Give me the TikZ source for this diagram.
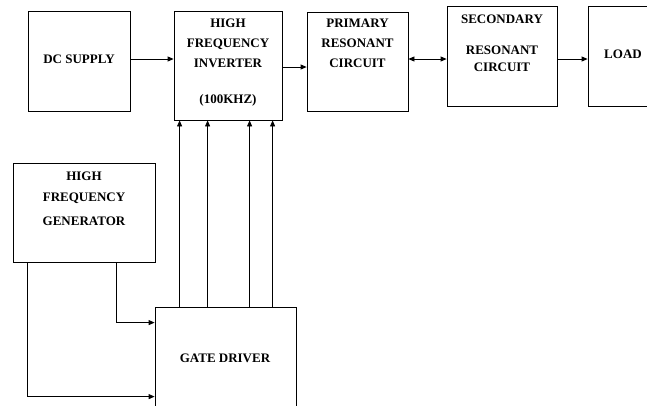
\documentclass[tikz,border=0pt]{standalone}
\usepackage{fontspec}
\setmainfont{Liberation Serif}
\usetikzlibrary{arrows.meta,positioning,calc}

\begin{document}
\begin{tikzpicture}[x=1pt, y=-1pt, line width=0.8pt,
    block/.style={draw, rectangle, inner sep=0pt},
    lbl/.style={align=center, font=\fontsize{13}{20}\selectfont\bfseries},
    arr/.style={-{Triangle[length=6pt,width=5pt]}},
    darr/.style={{Triangle[length=6pt,width=5pt]}-{Triangle[length=6pt,width=5pt]}}]
  \clip (0,0) rectangle (647,405);

  % --- top row of blocks ---
  \node[block, minimum width=102pt, minimum height=100pt] (dcsupply) at (79,61) {};
  \node[block, minimum width=108pt, minimum height=109pt] (inverter) at (228,65.5) {};
  \node[block, minimum width=101pt, minimum height=99pt] (primary) at (357.5,61.5) {};
  \node[block, minimum width=110pt, minimum height=100pt] (secondary) at (502,56) {};
  \node[block, minimum width=80pt, minimum height=100pt] (load) at (628,56) {};

  % --- lower blocks ---
  \node[block, minimum width=142pt, minimum height=99pt] (hfgen) at (84,212.5) {};
  \node[block, minimum width=141pt, minimum height=140pt] (gatedriver) at (225.5,377) {};

  % Labels
  \node[lbl] (dctext) at (79,59) {DC SUPPLY};
  \node[lbl, anchor=north] (invtext) at (228,15) {HIGH\\FREQUENCY\\INVERTER\\[16pt](100KHZ)};
  \node[lbl, anchor=north] (primtext) at (357.5,15) {PRIMARY\\RESONANT\\CIRCUIT};
  \node[lbl, anchor=north] (sectext) at (502,11) {SECONDARY\\[11pt]RESONANT\\[-3pt]CIRCUIT};
  \node[lbl] (loadtext) at (623,54) {LOAD};
  \node[lbl, anchor=north] (hfgtext) at (84,168) {HIGH\\[1pt]FREQUENCY\\[4pt]GENERATOR};
  \node[lbl] (gatetext) at (225,358) {GATE DRIVER};

  % Power path
  \draw[arr] ([yshift=2pt]dcsupply.east) -- ([yshift=2pt]dcsupply.east -| inverter.west);
  \draw[arr] ([yshift=-1.5pt]inverter.east) -- ([yshift=-1.5pt]inverter.east -| primary.west);
  \draw[darr] ([yshift=2.5pt]primary.east) -- ([yshift=2.5pt]primary.east -| secondary.west);
  \draw[arr] ([yshift=-3pt]secondary.east) -- ([yshift=-3pt]secondary.east -| load.west);

  % Gate signals
  \foreach \dx in {25,53,95,118}
    \draw[arr] ([xshift=\dx pt]gatedriver.north west) -- ([xshift=\dx pt]gatedriver.north west |- inverter.south);

  % Generator to gate driver
  \draw[arr] ([xshift=104pt]hfgen.south west) |- ([yshift=-16pt]gatedriver.north west);
  \draw[arr] ([xshift=15pt]hfgen.south west) |- ([yshift=-90pt]gatedriver.north west);
\end{tikzpicture}
\end{document}
